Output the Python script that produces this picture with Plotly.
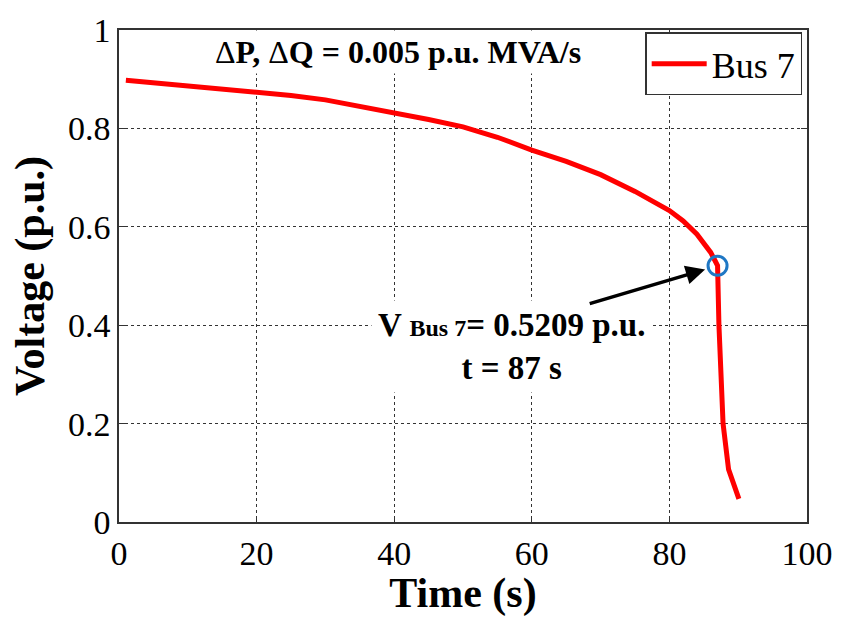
import plotly.graph_objects as go

# Bus 7 voltage trajectory under ramped load increase
time_s = [1, 5, 10, 15, 20, 25, 30, 35, 40, 45, 50, 55, 60, 65, 70, 75,
          80, 82, 84, 85, 86, 86.6, 87.0, 87.2, 87.5, 87.8, 88.6, 89.3, 90.1]
voltage_pu = [0.898, 0.893, 0.888, 0.882, 0.875, 0.867, 0.858, 0.845, 0.831,
              0.818, 0.803, 0.782, 0.756, 0.733, 0.706, 0.672, 0.633, 0.612,
              0.585, 0.567, 0.548, 0.532, 0.5209, 0.40, 0.30, 0.20, 0.107,
              0.075, 0.047]

# Collapse point
collapse_t = 87
collapse_v = 0.5209

x_ticks = [0, 20, 40, 60, 80, 100]
y_ticks = [0, 0.2, 0.4, 0.6, 0.8, 1]

FONT = "Liberation Serif"
AXIS_COLOR = "#333333"

fig = go.Figure()

fig.add_trace(go.Scatter(
    x=time_s, y=voltage_pu, mode="lines", name="Bus 7",
    line=dict(color="#ff0000", width=5),
))

fig.add_trace(go.Scatter(
    x=[collapse_t], y=[collapse_v], mode="markers", showlegend=False,
    marker=dict(symbol="circle-open", size=19,
                line=dict(color="#1f77c4", width=3), color="#1f77c4"),
))

# Collapse point label (white box hides the grid behind it)
fig.add_annotation(
    x=57, y=0.356, xref="x", yref="y", xanchor="center", yanchor="middle",
    text=("<b>V <span style='font-size:24px'>Bus 7</span>= 0.5209 p.u.</b>"
          "<br><b>t = 87 s</b>"),
    showarrow=False, bgcolor="white", borderpad=6,
    font=dict(family=FONT, size=33, color="black"), align="center",
)

# Arrow pointing at the collapse point, drawn above the label box
fig.add_annotation(
    x=collapse_t, y=collapse_v, xref="x", yref="y",
    ax=68.2, ay=0.443, axref="x", ayref="y",
    text="", showarrow=True, arrowhead=2, arrowsize=1.1,
    arrowwidth=3.5, arrowcolor="black", standoff=13,
)

# Ramp rate label
fig.add_annotation(
    x=0.406, y=0.955, xref="paper", yref="paper", xanchor="center", yanchor="middle",
    text="Δ<b>P, </b>Δ<b>Q = 0.005 p.u. MVA/s</b>",
    showarrow=False, bgcolor="white", borderpad=3,
    font=dict(family=FONT, size=32, color="black"),
)

axis_common = dict(
    showline=True, linecolor=AXIS_COLOR, linewidth=1.5, mirror="ticks",
    ticks="inside", ticklen=6, tickcolor=AXIS_COLOR,
    showgrid=True, gridcolor="#333333", griddash="dot", gridwidth=1,
    zeroline=False,
    tickfont=dict(family=FONT, size=34, color="black"),
)

fig.update_xaxes(
    range=[0, 100], tickvals=x_ticks, ticktext=[str(v) for v in x_ticks],
    title=dict(text="<b>Time (s)</b>", font=dict(family=FONT, size=42, color="black"),
               standoff=4),
    **axis_common,
)
fig.update_yaxes(
    range=[0, 1], tickvals=y_ticks, ticktext=["0", "0.2", "0.4", "0.6", "0.8", "1"],
    title=dict(text="<b>Voltage (p.u.)</b>", font=dict(family=FONT, size=42, color="black"),
               standoff=10),
    **axis_common,
)

fig.update_layout(
    width=845, height=617,
    margin=dict(l=119, r=31, t=21, b=90),
    paper_bgcolor="white", plot_bgcolor="white",
    showlegend=True,
    legend=dict(
        x=0.993, y=0.995, xanchor="right", yanchor="top",
        bgcolor="white", bordercolor=AXIS_COLOR, borderwidth=1.5,
        font=dict(family=FONT, size=36, color="black"),
        itemwidth=55,
    ),
)

fig.write_html("out.html")
